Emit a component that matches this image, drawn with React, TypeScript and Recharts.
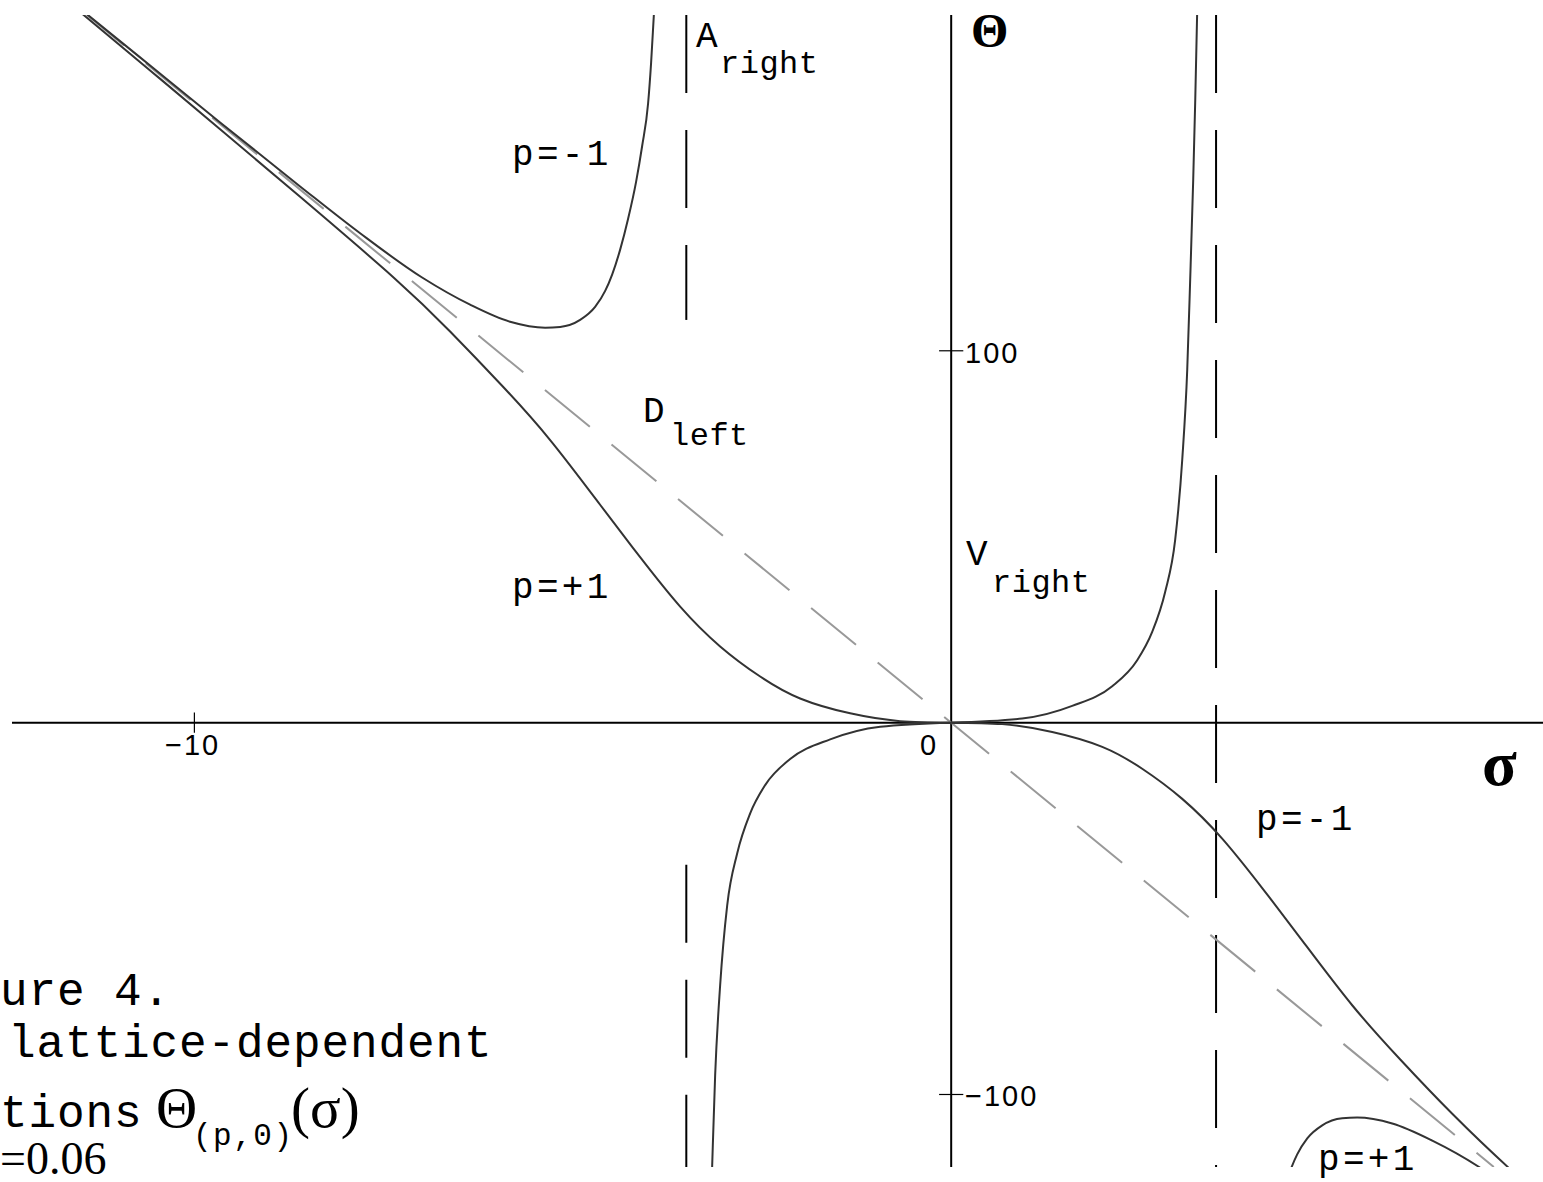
import React from "react";
import { LineChart, Line, XAxis, YAxis, ReferenceLine } from "recharts";

// sigma, Theta pairs
const pPlusLeft = [
  [-11.51, 191.1], [-10.585, 175.4], [-9.66, 159.6], [-8.603, 141.4], [-7.361, 119.6],
  [-6.621, 105.2], [-5.934, 90.6], [-5.299, 76.0], [-4.639, 58.6], [-4.11, 44.5],
  [-3.581, 31.2], [-3.053, 20.5], [-2.524, 12.4], [-1.996, 6.5], [-1.335, 2.5],
  [-0.674, 0.4], [0, 0],
];
const pMinusRight = [
  [0, 0], [0.674, -0.4], [1.335, -2.5], [1.996, -6.5], [2.524, -12.4], [3.053, -20.5],
  [3.581, -31.2], [4.11, -44.5], [4.639, -58.6], [5.299, -76.0], [5.934, -90.6],
  [6.621, -105.2], [7.361, -119.6], [7.82, -127.5],
];
const pMinusLeft = [
  [-11.51, 192.0], [-10.585, 176.7], [-9.66, 161.4], [-8.603, 144.2], [-7.81, 131.6],
  [-6.991, 119.7], [-6.357, 112.4], [-5.828, 107.8], [-5.365, 106.2], [-5.167, 106.4],
  [-4.903, 108.3], [-4.705, 111.8], [-4.572, 116.1], [-4.48, 120.5], [-4.374, 127.2],
  [-4.269, 135.5], [-4.163, 145.5], [-4.084, 155.0], [-4.005, 166.5], [-3.965, 177.5],
  [-3.925, 191.7], [-3.9, 200],
];
const pPlusRight = [
  [4.374, -127.2], [4.48, -120.5], [4.572, -116.1], [4.705, -111.8], [4.903, -108.3],
  [5.167, -106.4], [5.365, -106.2], [5.828, -107.8], [6.357, -112.4], [6.991, -119.7],
  [7.361, -125.0],
];
const vRight = [
  [0, 0], [0.938, 1.1], [1.599, 4.5], [2.128, 9.8], [2.458, 16.8], [2.656, 24.4],
  [2.828, 35.2], [2.96, 49.2], [3.053, 70.7], [3.119, 94.9], [3.158, 119.1],
  [3.198, 146.0], [3.225, 167.5], [3.251, 191.7],
];
const vLeft = [
  [-3.251, -191.7], [-3.198, -146.0], [-3.158, -119.1], [-3.119, -94.9], [-3.053, -70.7],
  [-2.96, -49.2], [-2.828, -35.2], [-2.656, -24.4], [-2.458, -16.8], [-2.128, -9.8],
  [-1.599, -4.5], [-0.938, -1.1], [0, 0],
];

// asymptotes
const diagonal = [[-11.42, 190.3], [7.17, -119.5]];
const asymLeftTop = [[-3.5, 190.3], [-3.5, 108.3]];
const asymLeftBottom = [[-3.5, -38.2], [-3.5, -119.5]];
const asymRight = [[3.5, 190.3], [3.5, -119.5]];

const X_DOMAIN = [-12.41, 7.82];
const Y_DOMAIN = [-119.5, 190.3];
const xTicks = [-10];
const yTicks = [100, -100];

const toPts = (arr: number[][]) => arr.map(([x, y]) => ({ x, y }));

const smoothCurves = [pPlusLeft, pMinusRight];
const steepCurves = [pMinusLeft, pPlusRight, vRight, vLeft];

const mono = "'Liberation Mono', 'DejaVu Sans Mono', monospace";
const serif = "'Liberation Serif', 'DejaVu Serif', serif";
const sans = "'Liberation Sans', Arial, sans-serif";

function Labels() {
  const lab = { fontFamily: mono, fontSize: 36, letterSpacing: 3.3, fill: "#000" };
  const sub = { fontFamily: mono, fontSize: 32, letterSpacing: 0.5, fill: "#000" };
  const tick = { fontFamily: sans, fontSize: 29, letterSpacing: 2, fill: "#000" };
  const cap = { fontFamily: mono, fontSize: 46, letterSpacing: 0.9, fill: "#000" };
  return (
    <svg
      width={1543}
      height={1182}
      style={{ position: "absolute", left: 0, top: 0, pointerEvents: "none" }}
    >
      <text x={696} y={47} {...lab}>A</text>
      <text x={720} y={73} {...sub}>right</text>
      <text x={512} y={165} {...lab}>p=-1</text>
      <text x={643} y={422} {...lab}>D</text>
      <text x={670} y={445} {...sub}>left</text>
      <text x={966} y={565} {...lab}>V</text>
      <text x={992} y={592} {...sub}>right</text>
      <text x={512} y={598} {...lab}>p=+1</text>
      <text x={1256} y={830} {...lab}>p=-1</text>
      <text x={1318} y={1170} {...lab}>p=+1</text>

      <text x={965} y={363} {...tick}>100</text>
      <text x={965} y={1106} {...tick}>−100</text>
      <text x={165} y={755} {...tick}>−10</text>
      <text x={920} y={755} {...tick}>0</text>

      <text x={971} y={47} fontFamily={serif} fontSize={48} fontWeight="bold">Θ</text>
      <text x={1482} y={785} fontFamily={serif} fontSize={64} fontWeight="bold">σ</text>

      <text x={0} y={1005} {...cap}>ure 4.</text>
      <text x={8} y={1057} {...cap}>lattice-dependent</text>
      <text x={0} y={1127} {...cap}>tions</text>
      <text x={156} y={1127} fontFamily={serif} fontSize={57}>Θ</text>
      <text x={193} y={1145} fontFamily={mono} fontSize={31} letterSpacing={1.5}>(p,0)</text>
      <text x={291} y={1127} fontFamily={serif} fontSize={57}>(σ)</text>
      <text x={0} y={1174} fontFamily={serif} fontSize={46}>=0.06</text>
    </svg>
  );
}

export default function App() {
  return (
    <div style={{ position: "absolute", left: 0, top: 0, width: 1543, height: 1182, background: "#fff", overflow: "hidden" }}>
      <LineChart width={1543} height={1182} margin={{ top: 15, right: 0, bottom: 15, left: 12 }}>
        <XAxis type="number" dataKey="x" domain={X_DOMAIN} allowDataOverflow hide />
        <YAxis type="number" dataKey="y" domain={Y_DOMAIN} allowDataOverflow hide />
        <ReferenceLine y={0} stroke="#000" strokeWidth={2} />
        <ReferenceLine x={0} stroke="#000" strokeWidth={2} />
        {xTicks.map((t) => (
          <ReferenceLine key={"xt" + t} segment={[{ x: t, y: -2.7 }, { x: t, y: 2.7 }]} stroke="#000" strokeWidth={1.2} />
        ))}
        {yTicks.map((t) => (
          <ReferenceLine key={"yt" + t} segment={[{ x: -0.16, y: t }, { x: 0.16, y: t }]} stroke="#000" strokeWidth={1.2} />
        ))}
        {[asymLeftTop, asymLeftBottom, asymRight].map((a, i) => (
          <Line
            key={"as" + i}
            data={toPts(a)}
            dataKey="y"
            type="linear"
            stroke="#000"
            strokeWidth={2}
            strokeDasharray="78 37"
            dot={false}
            activeDot={false}
            isAnimationActive={false}
          />
        ))}
        <Line
          data={toPts(diagonal)}
          dataKey="y"
          type="linear"
          stroke="#999"
          strokeWidth={2}
          strokeDasharray="58 28"
          strokeDashoffset={10}
          dot={false}
          activeDot={false}
          isAnimationActive={false}
        />
        {smoothCurves.map((c, i) => (
          <Line
            key={"s" + i}
            data={toPts(c)}
            dataKey="y"
            type="natural"
            stroke="#333"
            strokeWidth={2}
            dot={false}
            activeDot={false}
            isAnimationActive={false}
          />
        ))}
        {steepCurves.map((c, i) => (
          <Line
            key={"c" + i}
            data={toPts(c)}
            dataKey="y"
            type="monotone"
            stroke="#333"
            strokeWidth={2}
            dot={false}
            activeDot={false}
            isAnimationActive={false}
          />
        ))}
      </LineChart>
      <Labels />
    </div>
  );
}
